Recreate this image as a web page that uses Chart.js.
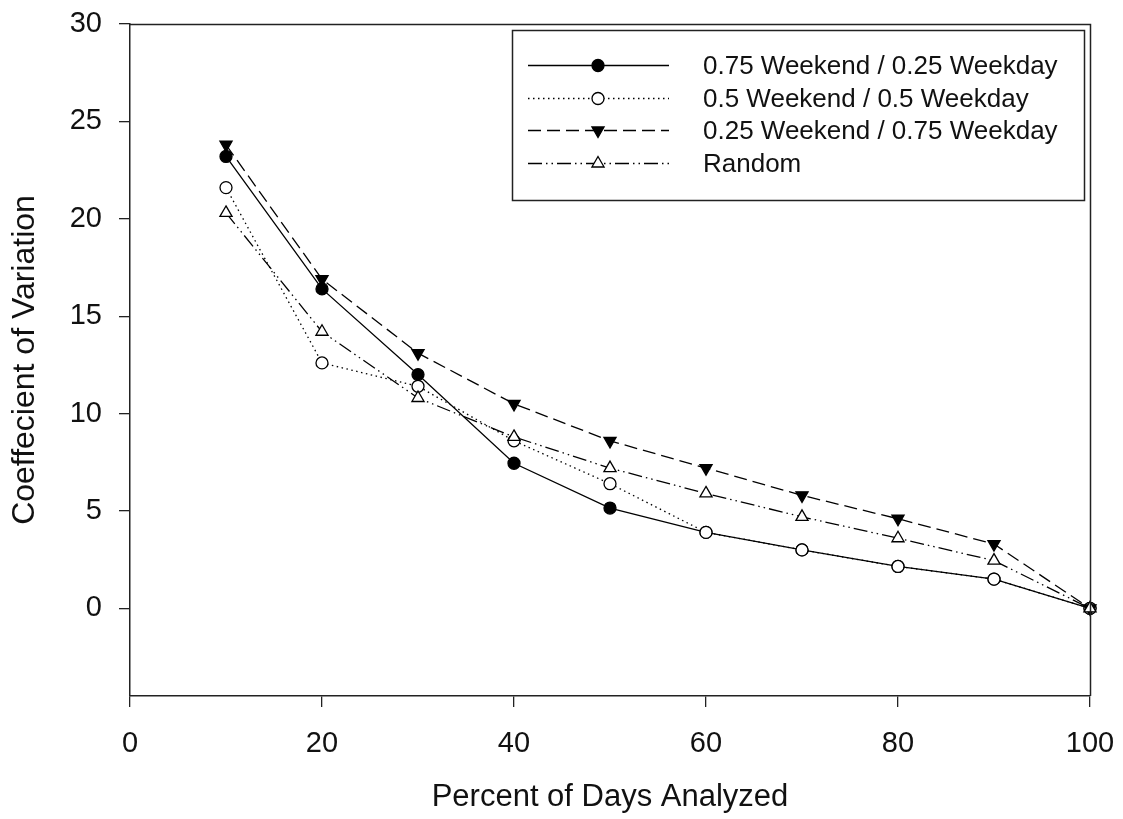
<!DOCTYPE html>
<html><head><meta charset="utf-8">
<script src="https://cdn.jsdelivr.net/npm/chart.js@4/dist/chart.umd.min.js"></script>
<style>html,body{margin:0;padding:0;background:#fff}#wrap{width:1123px;height:819px;position:relative}</style>
</head><body><div id="wrap"><canvas id="c" width="1123" height="819"></canvas></div>
<script>
const percentDays = [10, 20, 30, 40, 50, 60, 70, 80, 90, 100];
const cv75Weekend = [23.2, 16.4, 12.0, 7.45, 5.15, 3.9, 3.0, 2.15, 1.5, 0];
const cv50Weekend = [21.6, 12.6, 11.4, 8.6, 6.4, 3.9, 3.0, 2.15, 1.5, 0];
const cv25Weekend = [23.8, 16.9, 13.1, 10.5, 8.6, 7.2, 5.8, 4.6, 3.3, 0];
const cvRandom = [20.3, 14.2, 10.8, 8.8, 7.2, 5.9, 4.7, 3.6, 2.45, 0];
const seriesLabels = ['0.75 Weekend / 0.25 Weekday', '0.5 Weekend / 0.5 Weekday', '0.25 Weekend / 0.75 Weekday', 'Random'];
const xTicks = [0, 20, 40, 60, 80, 100];
const yTicks = [0, 5, 10, 15, 20, 25, 30];
const xTitle = 'Percent of Days Analyzed';
const yTitle = 'Coeffecient of Variation';

const FONT = '"Liberation Sans", Arial, sans-serif';
const toPts = (arr) => percentDays.map((x, i) => ({x: x, y: arr[i]}));

const common = {borderColor: '#000', borderWidth: 1.3, pointBorderColor: '#000', pointBorderWidth: 1.3, fill: false, tension: 0, clip: false};
const datasets = [
  Object.assign({}, common, {label: seriesLabels[0], data: toPts(cv75Weekend), borderDash: [], pointStyle: 'circle', pointRadius: 6, pointBackgroundColor: '#000', pointRotation: 0, order: 3}),
  Object.assign({}, common, {label: seriesLabels[1], data: toPts(cv50Weekend), borderDash: [1.5, 3.5], pointStyle: 'circle', pointRadius: 6, pointBackgroundColor: '#fff', pointRotation: 0, order: 2}),
  Object.assign({}, common, {label: seriesLabels[2], data: toPts(cv25Weekend), borderDash: [13, 6], pointStyle: 'triangle', pointRadius: 7, pointBackgroundColor: '#000', pointRotation: 180, order: 1}),
  Object.assign({}, common, {label: seriesLabels[3], data: toPts(cvRandom), borderDash: [14, 4, 1.5, 4, 1.5, 4], pointStyle: 'triangle', pointRadius: 7, pointBackgroundColor: '#fff', pointRotation: 0, order: 0})
];

const framePlugin = {
  id: 'frame',
  afterDatasetsDraw(chart) {
    const {ctx, chartArea: a} = chart;
    ctx.save();
    ctx.strokeStyle = '#222';
    ctx.lineWidth = 1.5;
    ctx.beginPath();
    ctx.moveTo(a.left, a.top + 0.5);
    ctx.lineTo(a.right + 0.5, a.top + 0.5);
    ctx.lineTo(a.right + 0.5, a.bottom);
    ctx.stroke();
    ctx.restore();
  }
};

const legendPlugin = {
  id: 'customLegend',
  afterDraw(chart) {
    const {ctx} = chart;
    const box = {l: 512.5, t: 30.5, r: 1084.5, b: 200.5};
    ctx.save();
    ctx.fillStyle = '#fff';
    ctx.fillRect(box.l, box.t, box.r - box.l, box.b - box.t);
    ctx.strokeStyle = '#222';
    ctx.lineWidth = 1.5;
    ctx.strokeRect(box.l, box.t, box.r - box.l, box.b - box.t);
    const rows = [65, 98, 130, 163];
    chart.data.datasets.forEach((ds, i) => {
      const y = rows[i] + 0.5;
      ctx.save();
      ctx.strokeStyle = ds.borderColor;
      ctx.lineWidth = ds.borderWidth;
      ctx.setLineDash(ds.borderDash || []);
      ctx.beginPath();
      ctx.moveTo(528, y);
      ctx.lineTo(669, y);
      ctx.stroke();
      ctx.restore();
      ctx.save();
      ctx.fillStyle = ds.pointBackgroundColor;
      ctx.strokeStyle = ds.pointBorderColor;
      ctx.lineWidth = ds.pointBorderWidth;
      Chart.helpers.drawPoint(ctx, {pointStyle: ds.pointStyle, radius: ds.pointRadius, rotation: ds.pointRotation, borderWidth: ds.pointBorderWidth}, 598, y);
      ctx.restore();
      ctx.fillStyle = '#111';
      ctx.font = '26px ' + FONT;
      ctx.textBaseline = 'middle';
      ctx.textAlign = 'left';
      ctx.fillText(ds.label, 703, y + 1);
    });
    ctx.restore();
  }
};

new Chart(document.getElementById('c'), {
  type: 'line',
  data: {datasets: datasets},
  options: {
    responsive: false,
    animation: false,
    devicePixelRatio: 1,
    layout: {padding: {top: 24, right: 33, left: 0, bottom: 0}},
    plugins: {legend: {display: false}, tooltip: {enabled: false}},
    scales: {
      x: {
        type: 'linear', min: 0, max: 100,
        afterBuildTicks: (s) => { s.ticks = xTicks.map(v => ({value: v})); },
        afterFit: (s) => { s.height = 123; s.paddingLeft = 0; s.paddingRight = 0; },
        ticks: {color: '#111', font: {size: 29, family: FONT}, padding: 20, maxRotation: 0, autoSkip: false},
        grid: {drawOnChartArea: false, drawTicks: true, tickLength: 11, color: '#222', lineWidth: 1.3},
        border: {display: true, color: '#222', width: 1.5},
        title: {display: true, text: xTitle, color: '#111', font: {size: 31, family: FONT}, padding: {top: 0, bottom: 3}}
      },
      y: {
        type: 'linear', min: -4.5, max: 30,
        afterBuildTicks: (s) => { s.ticks = yTicks.map(v => ({value: v})); },
        afterFit: (s) => { s.width = 130; s.paddingTop = 0; s.paddingBottom = 0; },
        ticks: {color: '#111', font: {size: 29, family: FONT}, padding: 17, autoSkip: false},
        grid: {drawOnChartArea: false, drawTicks: true, tickLength: 11, color: '#222', lineWidth: 1.3},
        border: {display: true, color: '#222', width: 1.5},
        title: {display: true, text: yTitle, color: '#111', font: {size: 32, family: FONT}, padding: {top: 6, bottom: 0}}
      }
    }
  },
  plugins: [framePlugin, legendPlugin]
});
</script>
</body></html>
